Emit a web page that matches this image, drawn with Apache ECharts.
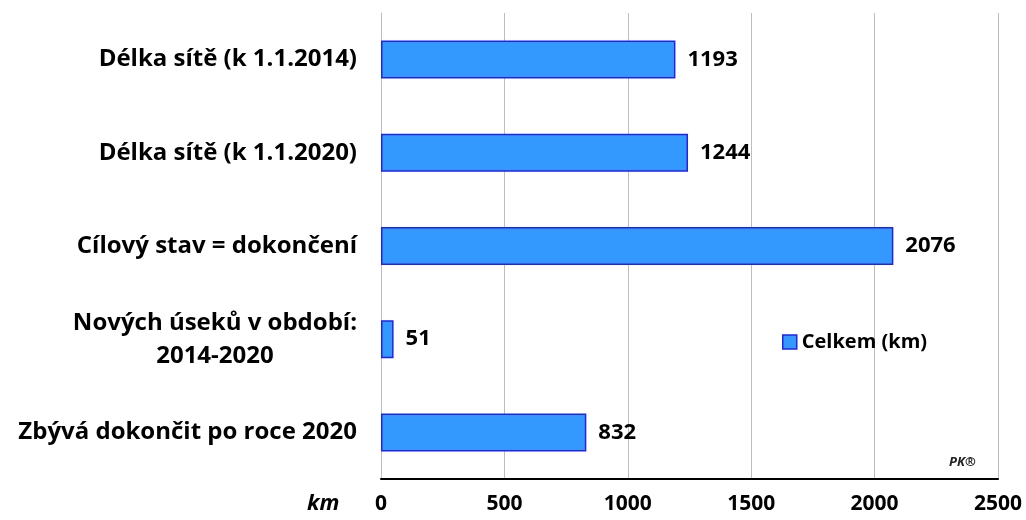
<!DOCTYPE html>
<html>
<head>
<meta charset="utf-8">
<script src="https://cdn.jsdelivr.net/npm/echarts@6/dist/echarts.min.js"></script>
<style>
  html, body { margin: 0; padding: 0; background: #fff; }
  #chart1 { width: 1026px; height: 520px; }
</style>
</head>
<body>
<div id="chart1"></div>
<script>
var categories = [
    'Délka sítě (k 1.1.2014)',
    'Délka sítě (k 1.1.2020)',
    'Cílový stav = dokončení',
    'Nových úseků v období:\n2014-2020',
    'Zbývá dokončit po roce 2020'
];
var values = [1193, 1244, 2076, 51, 832];
var seriesName = 'Celkem (km)';
var xTicks = [0, 500, 1000, 1500, 2000, 2500];

var font = '"Open Sans", "Noto Sans", sans-serif';
var chart1 = echarts.init(document.getElementById('chart1'));

var option = {
    backgroundColor: '#fff',
    animation: false,
    grid: {
        left: 381,
        right: 28,
        top: 13,
        bottom: 41,
        containLabel: false
    },
    legend: {
        data: [{ name: seriesName, icon: 'rect' }],
        left: 777,
        top: 327,
        itemWidth: 14,
        itemHeight: 14,
        itemGap: 6,
        itemStyle: { borderColor: '#2222ee', borderWidth: 1.5 },
        textStyle: {
            fontFamily: font,
            fontWeight: 'bold',
            fontSize: 20,
            color: '#000'
        }
    },
    xAxis: {
        type: 'value',
        min: xTicks[0],
        max: xTicks[xTicks.length - 1],
        interval: 500,
        axisLine: { show: true, lineStyle: { color: '#000', width: 2 } },
        axisTick: { show: false },
        axisLabel: {
            fontFamily: font,
            fontWeight: 'bold',
            fontSize: 21,
            color: '#000',
            margin: 15,
            formatter: function (v) { return String(v); }
        },
        splitLine: { show: true, lineStyle: { color: '#bdbdbd', width: 1 } }
    },
    yAxis: {
        type: 'category',
        inverse: true,
        data: categories,
        axisLine: { show: true, lineStyle: { color: '#bdbdbd', width: 1 } },
        axisTick: { show: false },
        axisLabel: {
            margin: 24,
            formatter: function (v) {
                return v.split('\n').map(function (s) { return '{c|' + s + '}'; }).join('\n');
            },
            rich: {
                c: {
                    fontFamily: font,
                    fontWeight: 'bold',
                    fontSize: 24,
                    color: '#000',
                    align: 'center',
                    lineHeight: 33
                }
            }
        }
    },
    series: [{
        name: seriesName,
        type: 'bar',
        data: values,
        barWidth: 38,
        itemStyle: {
            color: '#3399ff',
            borderColor: '#2222ee',
            borderWidth: 1.5
        },
        label: {
            show: true,
            position: 'right',
            distance: 12,
            fontFamily: font,
            fontWeight: 'bold',
            fontSize: 22,
            color: '#000'
        }
    }],
    graphic: [
        {
            type: 'text',
            left: 307,
            top: 493,
            style: {
                text: 'km',
                fontFamily: font,
                fontWeight: 'bold',
                fontStyle: 'italic',
                fontSize: 22,
                fill: '#000'
            }
        },
        {
            type: 'text',
            left: 949,
            top: 456,
            style: {
                text: 'PK®',
                fontFamily: font,
                fontWeight: 'bold',
                fontStyle: 'italic',
                fontSize: 13,
                fill: '#222'
            }
        }
    ]
};
chart1.setOption(option, true);
</script>
</body>
</html>
